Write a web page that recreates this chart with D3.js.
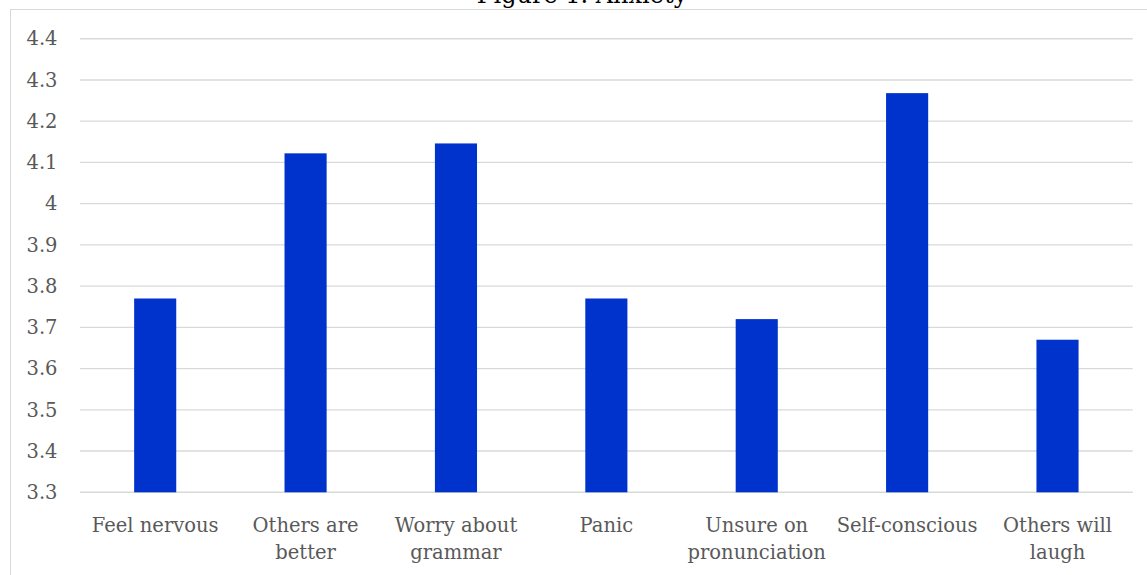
<!DOCTYPE html>
<html>
<head>
<meta charset="utf-8">
<script src="https://cdn.jsdelivr.net/npm/d3@7"></script>
<style>
  html, body { margin: 0; padding: 0; background: #fff; }
  svg { display: block; }
</style>
</head>
<body>
<svg id="chart" width="1147" height="575"></svg>
<script>
const title = "Figure 1. Anxiety";
const categories = ["Feel nervous", "Others are better", "Worry about grammar", "Panic", "Unsure on pronunciation", "Self-conscious", "Others will laugh"];
const labelLines = [["Feel nervous"], ["Others are", "better"], ["Worry about", "grammar"], ["Panic"], ["Unsure on", "pronunciation"], ["Self-conscious"], ["Others will", "laugh"]];
const values = [3.77, 4.122, 4.146, 3.77, 3.72, 4.268, 3.67];
const yTicks = [3.3, 3.4, 3.5, 3.6, 3.7, 3.8, 3.9, 4.0, 4.1, 4.2, 4.3, 4.4];

const svg = d3.select("#chart");
const font = "'DejaVu Serif', serif";

// chart border
svg.append("rect")
  .attr("x", 10.5).attr("y", 9.5)
  .attr("width", 1160).attr("height", 620)
  .attr("fill", "none").attr("stroke", "#d9d9d9").attr("stroke-width", 1);

const x = d3.scaleBand().domain(categories).range([80, 1132.7]).paddingInner(0.72).paddingOuter(0.36);
const y = d3.scaleLinear().domain([3.3, 4.4]).range([492.3, 38.7]);

// gridlines
svg.append("g").selectAll("line").data(yTicks).join("line")
  .attr("x1", 80).attr("x2", 1132.7)
  .attr("y1", d => y(d)).attr("y2", d => y(d))
  .attr("stroke", "#d9d9d9").attr("stroke-width", 1.4);

// y axis
const yAxis = svg.append("g").attr("transform", "translate(57.5,0)")
  .call(d3.axisLeft(y).tickValues(yTicks).tickSize(0).tickPadding(0).tickFormat(d => String(+d.toFixed(1))));
yAxis.select(".domain").remove();
yAxis.selectAll("text").attr("font-family", font).attr("font-size", 19.5).attr("fill", "#595959");

// bars
svg.append("g").selectAll("rect").data(values).join("rect")
  .attr("x", (d, i) => x(categories[i]))
  .attr("width", x.bandwidth())
  .attr("y", d => y(d))
  .attr("height", d => y(3.3) - y(d))
  .attr("fill", "#0033cc");

// x labels
const xl = svg.append("g");
categories.forEach((c, i) => {
  const t = xl.append("text")
    .attr("x", x(c) + x.bandwidth() / 2)
    .attr("y", 532)
    .attr("text-anchor", "middle")
    .attr("font-family", font).attr("font-size", 19.5).attr("fill", "#595959");
  labelLines[i].forEach((ln, j) => {
    t.append("tspan").attr("x", x(c) + x.bandwidth() / 2).attr("dy", j === 0 ? 0 : 27).text(ln);
  });
});

// title
svg.append("text")
  .attr("x", 582).attr("y", 3)
  .attr("text-anchor", "middle")
  .attr("font-family", font).attr("font-size", 24).attr("fill", "#000")
  .text(title);
</script>
</body>
</html>
